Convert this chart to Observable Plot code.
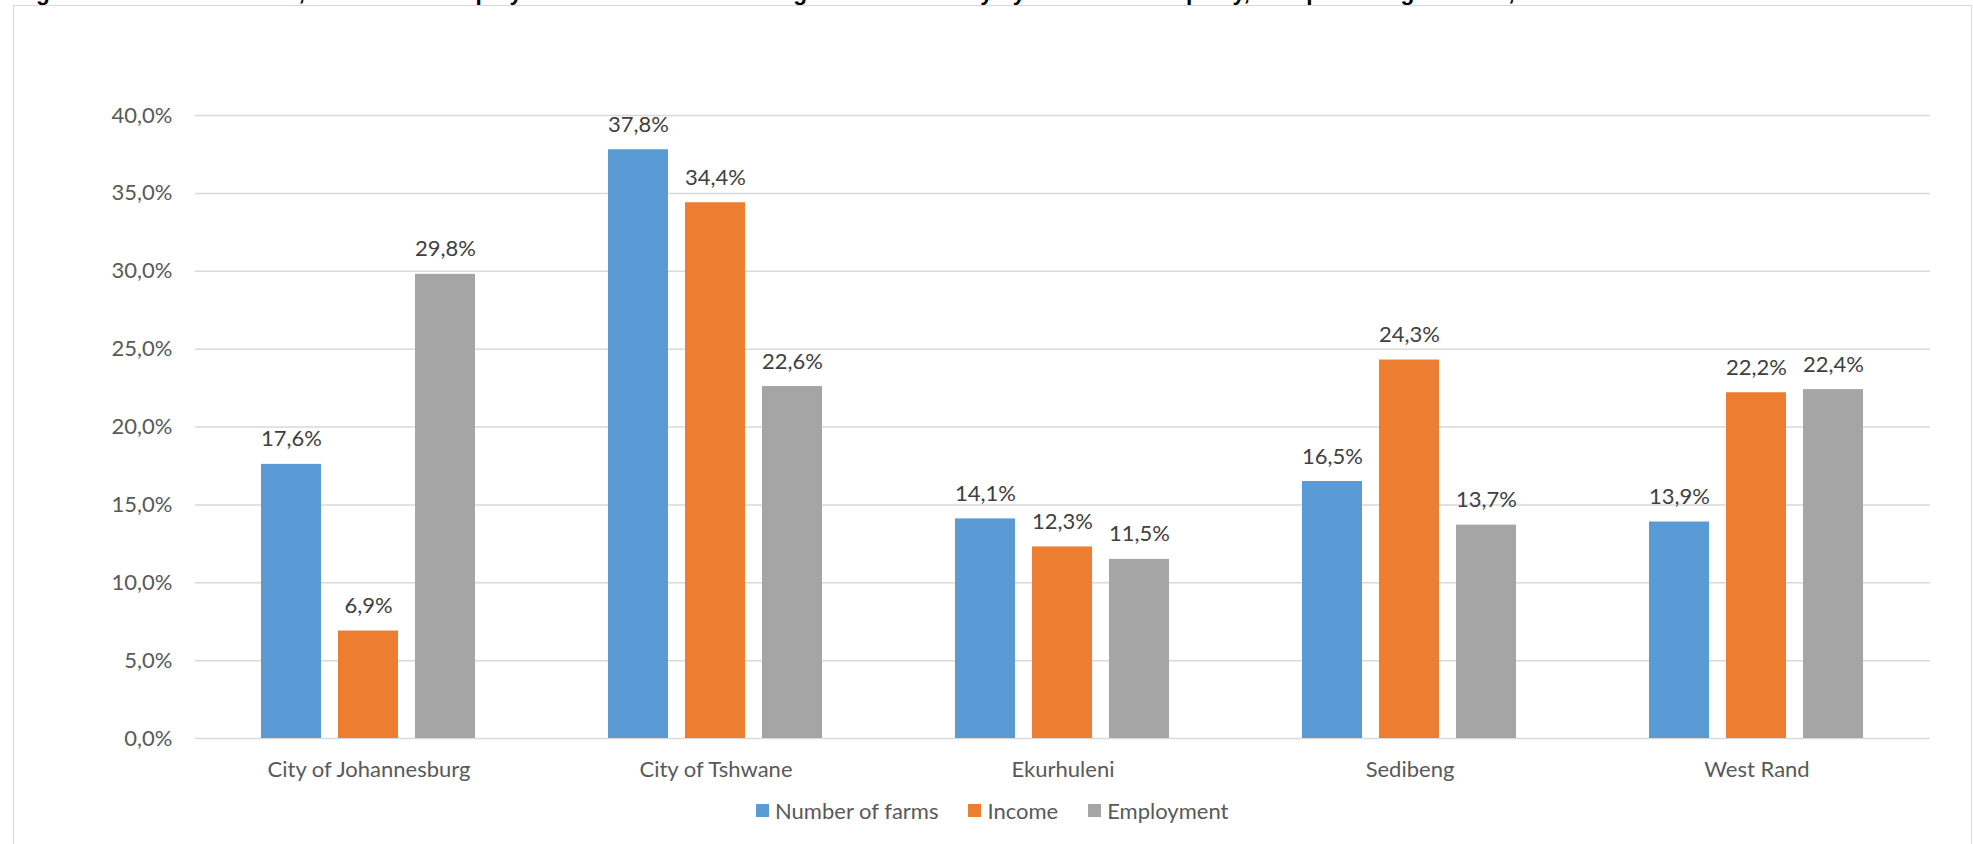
<!DOCTYPE html>
<html>
<head>
<meta charset="utf-8">
<script src="https://cdn.jsdelivr.net/npm/d3@7"></script>
<script src="https://cdn.jsdelivr.net/npm/@observablehq/plot@0.6"></script>
<style>
  html, body { margin: 0; padding: 0; background: #fff; }
  body { width: 1973px; height: 844px; position: relative; overflow: hidden; font-family: Lato, sans-serif; }
  #title { position: absolute; left: 16px; top: -18.5px; font: bold 22.6px/22px "Liberation Sans", Arial, sans-serif; color: #000; white-space: nowrap; }
  #box { position: absolute; left: 13px; top: 5px; width: 1959px; height: 900px; border: 1.5px solid #d9d9d9; box-sizing: border-box; background: #fff; }
  #chart { position: absolute; left: 0; top: 0; }
  #legend { position: absolute; left: 756px; top: 797px; display: flex; align-items: center; font-family: Lato, sans-serif; font-size: 22px; color: #595959; white-space: nowrap; }
  #legend .item { display: flex; align-items: center; margin-right: 30px; }
  #legend .sw { width: 13px; height: 13px; margin-right: 6px; }
</style>
</head>
<body>
<div id="title"></div>
<div id="box"></div>
<div id="chart"></div>
<div id="legend"></div>
<script>
const titleText = "Figure 3: Number of farms, income and employment in the commercial agriculture industry by district municipality, as a percentage of total, 2017";
const districts = ["City of Johannesburg", "City of Tshwane", "Ekurhuleni", "Sedibeng", "West Rand"];
const seriesNames = ["Number of farms", "Income", "Employment"];
const farms = [17.6, 37.8, 14.1, 16.5, 13.9];
const income = [6.9, 34.4, 12.3, 24.3, 22.2];
const employment = [29.8, 22.6, 11.5, 13.7, 22.4];
const yTicks = [0, 5, 10, 15, 20, 25, 30, 35, 40];
const colors = ["#5B9BD5", "#ED7D31", "#A5A5A5"];

const seriesValues = [farms, income, employment];
const rows = [];
districts.forEach((d, i) => {
  seriesNames.forEach((s, j) => rows.push({district: d, series: s, value: seriesValues[j][i]}));
});
const fmt = v => v.toFixed(1).replace(".", ",") + "%";

document.getElementById("title").textContent = titleText;

const chart = Plot.plot({
  width: 1973,
  height: 790,
  marginLeft: 193,
  marginRight: 42,
  marginTop: 115,
  marginBottom: 52,
  style: {background: "transparent", fontFamily: "Lato, sans-serif"},
  fx: {domain: districts, paddingInner: 0, paddingOuter: 0, label: null},
  x: {domain: seriesNames, paddingInner: 0.216, paddingOuter: 0.853, axis: null},
  y: {domain: [0, 40], ticks: yTicks, label: null},
  color: {domain: seriesNames, range: colors},
  marks: [
    Plot.gridY(yTicks, {stroke: "#d9d9d9", strokeOpacity: 1, strokeWidth: 1.5}),
    Plot.barY(rows, {fx: "district", x: "series", y: "value", fill: "series"}),
    Plot.text(rows, {fx: "district", x: "series", y: "value", text: d => fmt(d.value), dy: -25, fontSize: 22, fill: "#404040"}),
    Plot.axisY(yTicks, {tickSize: 0, tickPadding: 23, tickFormat: fmt, fontSize: 22, color: "#595959", label: null}),
    Plot.axisFx({anchor: "bottom", tickSize: 0, tickPadding: 23, fontSize: 22, color: "#595959", label: null})
  ]
});
document.getElementById("chart").appendChild(chart);

const legend = document.getElementById("legend");
seriesNames.forEach((s, i) => {
  const item = document.createElement("div");
  item.className = "item";
  const sw = document.createElement("div");
  sw.className = "sw";
  sw.style.background = colors[i];
  const t = document.createElement("span");
  t.textContent = s;
  item.appendChild(sw);
  item.appendChild(t);
  legend.appendChild(item);
});
</script>
</body>
</html>
